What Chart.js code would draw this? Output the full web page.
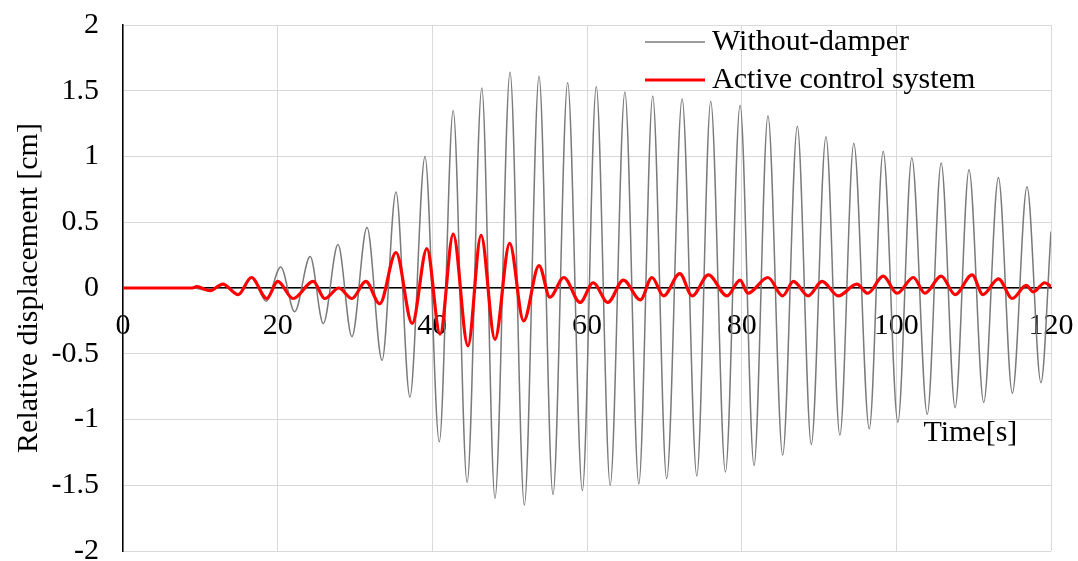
<!DOCTYPE html>
<html>
<head>
<meta charset="utf-8">
<title>Relative displacement</title>
<script src="https://cdn.jsdelivr.net/npm/chart.js@4.4.0/dist/chart.umd.min.js"></script>
<style>
  html, body { margin: 0; padding: 0; background: #fff; }
  #wrap { width: 1078px; height: 561px; }
</style>
</head>
<body>
<div id="wrap"><canvas id="dispChart" width="1078" height="561"></canvas></div>
<script>
// series labels
const seriesNames = ['Without-damper', 'Active control system'];

// without damper: time [s] / displacement [cm], read at the peaks and troughs
const grayTime = [0, 9,
    11.1, 12.9, 14.9, 16.7, 18.5, 20.4, 22.2, 24.2, 25.9, 27.8,
    29.6, 31.55, 33.5, 35.3, 37.1, 39.05, 40.9, 42.7, 44.5, 46.4,
    48.1, 50.05, 51.9, 53.8, 55.6, 57.5, 59.4, 61.2, 63.0, 64.9,
    66.7, 68.5, 70.3, 72.3, 74.2, 76.0, 77.9, 79.8, 81.6, 83.4,
    85.3, 87.2, 89.0, 90.9, 92.7, 94.5, 96.5, 98.3, 100.2, 102.0,
    104.0, 105.8, 107.6, 109.4, 111.3, 113.2, 115.0, 116.9, 118.7, 120];
const grayDisp = [0, 0,
    -0.02, 0.03, -0.05, 0.08, -0.10, 0.16, -0.18, 0.24, -0.27, 0.33,
    -0.37, 0.46, -0.55, 0.73, -0.83, 1.00, -1.17, 1.35, -1.48, 1.52,
    -1.60, 1.64, -1.65, 1.61, -1.57, 1.56, -1.54, 1.53, -1.50, 1.49,
    -1.49, 1.46, -1.45, 1.44, -1.43, 1.42, -1.40, 1.39, -1.35, 1.31,
    -1.27, 1.23, -1.19, 1.15, -1.12, 1.10, -1.07, 1.04, -1.02, 0.99,
    -0.96, 0.95, -0.91, 0.90, -0.87, 0.84, -0.80, 0.77, -0.72, 0.43];

// active control system
const redTime = [0, 9.0, 9.5,
    11.3, 12.9, 14.9, 16.6, 18.6, 20.0, 22.0, 24.6, 26.1, 27.9,
    29.6, 31.4, 33.2, 35.3, 37.4, 39.3, 41.0, 42.7, 44.6, 46.3,
    48.1, 50.0, 51.8, 53.8, 55.2, 57.0, 59.1, 60.8, 62.7, 64.7,
    66.9, 68.4, 69.9, 72.0, 73.6, 75.7, 78.1, 79.8, 80.8, 83.4,
    85.3, 86.7, 88.6, 90.4, 92.5, 94.9, 96.3, 98.3, 100.1, 102.2,
    103.7, 105.8, 107.6, 109.8, 111.2, 113.2, 115.0, 116.8, 117.7, 119.2,
    120];
const redDisp = [0, 0, 0.01,
    -0.02, 0.03, -0.05, 0.08, -0.08, 0.05, -0.08, 0.05, -0.08, 0.0,
    -0.08, 0.05, -0.12, 0.27, -0.27, 0.30, -0.35, 0.41, -0.44, 0.40,
    -0.39, 0.34, -0.25, 0.17, -0.07, 0.08, -0.11, 0.04, -0.11, 0.06,
    -0.09, 0.08, -0.06, 0.11, -0.06, 0.10, -0.06, 0.06, -0.04, 0.08,
    -0.06, 0.05, -0.06, 0.05, -0.06, 0.03, -0.04, 0.09, -0.04, 0.08,
    -0.04, 0.09, -0.05, 0.10, -0.05, 0.07, -0.08, 0.02, -0.03, 0.04,
    0.01];

// axis ticks
const xTicks = [0, 20, 40, 60, 80, 100, 120];
const yTicks = ['-2', '-1.5', '-1', '-0.5', '0', '0.5', '1', '1.5', '2'];
const xTitle = 'Time[s]';
const yTitle = 'Relative displacement [cm]';

const FONT = "'Liberation Serif', 'Times New Roman', serif";
const toPoints = (xs, ys) => xs.map((x, i) => ({ x: x, y: ys[i] }));

// legend + time label drawn inside the plot area
const overlayText = {
    id: 'overlayText',
    afterDraw(chart) {
        const ctx = chart.ctx;
        const area = chart.chartArea;
        const xs = chart.scales.x, ys = chart.scales.y;
        ctx.save();
        ctx.font = '30px ' + FONT;
        ctx.fillStyle = '#000';
        ctx.textBaseline = 'middle';
        ctx.textAlign = 'left';
        chart.data.datasets.forEach((ds, i) => {
            const yy = area.top + 17 + i * 38;
            ctx.strokeStyle = ds.borderColor;
            ctx.lineWidth = ds.borderWidth;
            ctx.beginPath();
            ctx.moveTo(area.right - 406, yy);
            ctx.lineTo(area.right - 346, yy);
            ctx.stroke();
            ctx.fillText(ds.label, area.right - 339, yy);
        });
        ctx.fillText(xTitle, xs.getPixelForValue(103.5), ys.getPixelForValue(-1.1));
        ctx.restore();
    }
};

new Chart(document.getElementById('dispChart').getContext('2d'), {
    type: 'line',
    data: {
        datasets: [{
            label: seriesNames[0],
            data: toPoints(grayTime, grayDisp),
            borderColor: '#7a7a7a',
            borderWidth: 1.5,
            pointRadius: 0,
            cubicInterpolationMode: 'monotone',
            order: 1
        }, {
            label: seriesNames[1],
            data: toPoints(redTime, redDisp),
            borderColor: '#ff0000',
            borderWidth: 3.2,
            pointRadius: 0,
            cubicInterpolationMode: 'monotone',
            order: 0
        }]
    },
    options: {
        responsive: false,
        devicePixelRatio: 1,
        animation: false,
        layout: { padding: { top: 25, right: 27, bottom: 10, left: 0 } },
        plugins: {
            legend: { display: false },
            tooltip: { enabled: false }
        },
        scales: {
            x: {
                type: 'linear',
                position: { y: 0 },
                min: 0,
                max: 120,
                afterBuildTicks: (s) => { s.ticks = xTicks.map(v => ({ value: v })); },
                afterFit: (s) => { s.height = 0; s.paddingLeft = 0; s.paddingRight = 0; },
                ticks: {
                    font: { family: FONT, size: 30 },
                    color: '#000',
                    padding: 20,
                    maxRotation: 0,
                    callback: (v) => String(v)
                },
                grid: { color: '#d9d9d9', lineWidth: 1, drawTicks: false },
                border: { color: '#000', width: 1.5 }
            },
            y: {
                type: 'linear',
                position: 'left',
                min: -2,
                max: 2,
                afterBuildTicks: (s) => { s.ticks = yTicks.map(t => ({ value: parseFloat(t) })); },
                afterFit: (s) => { s.width = 123; s.paddingTop = 0; s.paddingBottom = 0; },
                ticks: {
                    font: { family: FONT, size: 30 },
                    color: '#000',
                    padding: 24,
                    callback: (v) => yTicks[yTicks.map(parseFloat).indexOf(v)]
                },
                grid: { color: '#d9d9d9', lineWidth: 1, drawTicks: false },
                border: { color: '#000', width: 1.5 },
                title: {
                    display: true,
                    text: yTitle,
                    font: { family: FONT, size: 30 },
                    color: '#000',
                    padding: { top: 11, bottom: 0 }
                }
            }
        }
    },
    plugins: [overlayText]
});
</script>
</body>
</html>
